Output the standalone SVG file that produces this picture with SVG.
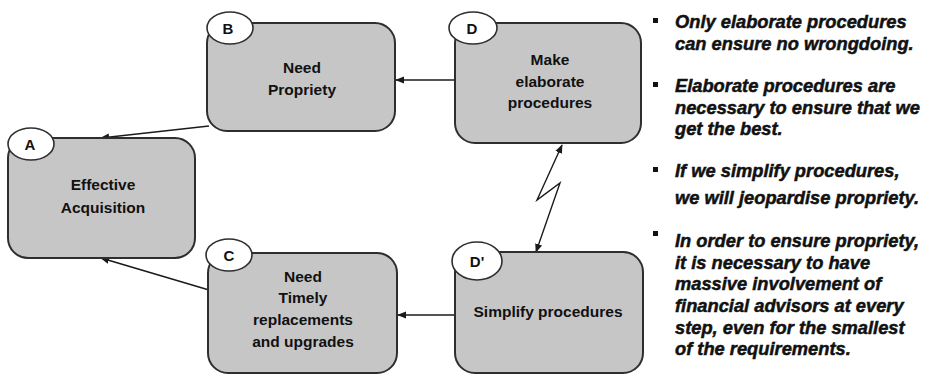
<svg xmlns="http://www.w3.org/2000/svg" width="929" height="378" viewBox="0 0 929 378">
  <style>
    .box { fill: #c6c6c6; stroke: #2e2e2e; stroke-width: 2; }
    .tag { fill: #ffffff; stroke: #2e2e2e; stroke-width: 1.6; }
    .tagtxt { font-family: "Liberation Sans", Arial, sans-serif; font-weight: bold; font-size: 15px; fill: #111; text-anchor: middle; }
    .lbl { font-family: "Liberation Sans", Arial, sans-serif; font-weight: bold; font-size: 15.5px; fill: #111; text-anchor: middle; }
    .wire { fill: none; stroke: #1a1a1a; stroke-width: 1.4; }
    .note { font-family: "Liberation Sans", Arial, sans-serif; font-weight: bold; font-style: italic; font-size: 18.3px; fill: #111; stroke: #111; stroke-width: 0.5; }
    .bullet { fill: #111; }
  </style>
  <defs>
    <marker id="head" viewBox="0 0 10 10" refX="9" refY="5" markerWidth="9" markerHeight="9" markerUnits="userSpaceOnUse" orient="auto-start-reverse">
      <path d="M0,1 L10,5 L0,9 Z" fill="#1a1a1a"/>
    </marker>
  </defs>
  <rect width="929" height="378" fill="#ffffff"/>

  <g id="connectors">
    <line class="wire" x1="455" y1="80" x2="396" y2="80" marker-end="url(#head)"/>
    <line class="wire" x1="455" y1="315" x2="398" y2="315" marker-end="url(#head)"/>
    <line class="wire" x1="209" y1="126" x2="101" y2="138" marker-end="url(#head)"/>
    <line class="wire" x1="209" y1="290" x2="101" y2="258" marker-end="url(#head)"/>
    <polyline class="wire" points="562,145 537,200 560,183 536,252" marker-start="url(#head)" marker-end="url(#head)"/>
  </g>

  <g id="node-a">
    <rect class="box" x="8" y="138" width="187" height="120" rx="20"/>
    <ellipse class="tag" cx="31" cy="144" rx="23" ry="16"/>
    <text class="tagtxt" x="30" y="150">A</text>
    <text class="lbl" x="103" y="190">Effective</text>
    <text class="lbl" x="103" y="213">Acquisition</text>
  </g>

  <g id="node-b">
    <rect class="box" x="207" y="23" width="188" height="108" rx="20"/>
    <ellipse class="tag" cx="230" cy="28" rx="23" ry="16"/>
    <text class="tagtxt" x="228" y="34">B</text>
    <text class="lbl" x="302" y="73">Need</text>
    <text class="lbl" x="302" y="95">Propriety</text>
  </g>

  <g id="node-d">
    <rect class="box" x="455" y="23" width="186" height="120" rx="20"/>
    <ellipse class="tag" cx="473" cy="28" rx="24" ry="16"/>
    <text class="tagtxt" x="472" y="34">D</text>
    <text class="lbl" x="550" y="65">Make</text>
    <text class="lbl" x="550" y="87">elaborate</text>
    <text class="lbl" x="550" y="108">procedures</text>
  </g>

  <g id="node-c">
    <rect class="box" x="208" y="253" width="189" height="120" rx="20"/>
    <ellipse class="tag" cx="229" cy="255" rx="23" ry="16"/>
    <text class="tagtxt" x="229" y="261">C</text>
    <text class="lbl" x="303" y="282">Need</text>
    <text class="lbl" x="303" y="303">Timely</text>
    <text class="lbl" x="303" y="325">replacements</text>
    <text class="lbl" x="303" y="347">and upgrades</text>
  </g>

  <g id="node-d-prime">
    <rect class="box" x="455" y="252" width="188" height="121" rx="20"/>
    <ellipse class="tag" cx="477" cy="261" rx="25" ry="19"/>
    <text class="tagtxt" x="477" y="267">D'</text>
    <text class="lbl" x="548" y="317">Simplify procedures</text>
  </g>

  <g id="notes">
    <rect class="bullet" x="653" y="18" width="5" height="5"/>
    <rect class="bullet" x="653" y="82" width="5" height="5"/>
    <rect class="bullet" x="653" y="167" width="5" height="5"/>
    <rect class="bullet" x="653" y="231" width="5" height="5"/>
    <text class="note" x="675" y="28">Only elaborate procedures</text>
    <text class="note" x="675" y="50">can ensure no wrongdoing.</text>
    <text class="note" x="675" y="92">Elaborate procedures are</text>
    <text class="note" x="675" y="114">necessary to ensure that we</text>
    <text class="note" x="675" y="135">get the best.</text>
    <text class="note" x="675" y="177">If we simplify procedures,</text>
    <text class="note" x="675" y="204">we will jeopardise propriety.</text>
    <text class="note" x="675" y="247">In order to ensure propriety,</text>
    <text class="note" x="675" y="269">it is necessary to have</text>
    <text class="note" x="675" y="290">massive involvement of</text>
    <text class="note" x="675" y="312">financial advisors at every</text>
    <text class="note" x="675" y="334">step, even for the smallest</text>
    <text class="note" x="675" y="355">of the requirements.</text>
  </g>
</svg>
